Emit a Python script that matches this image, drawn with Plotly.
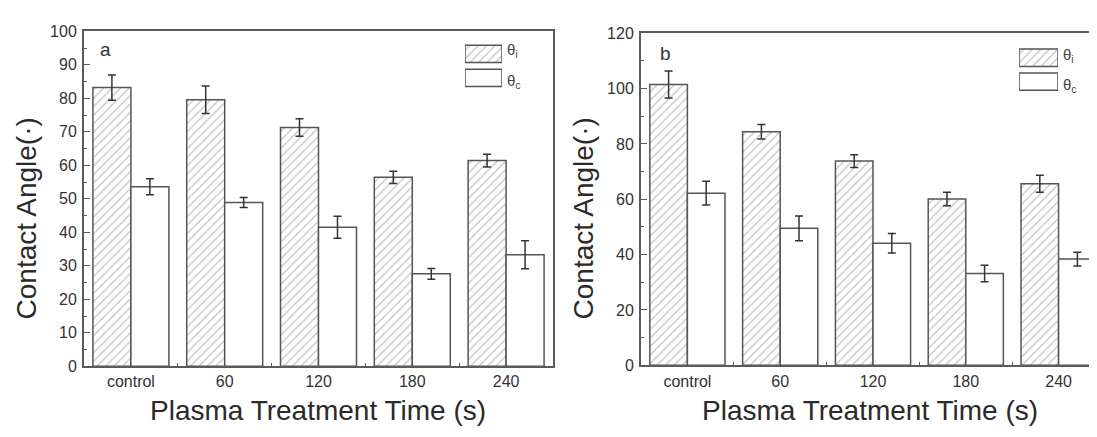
import plotly.graph_objects as go

# ---------------- data ----------------
categories = ["control", "60", "120", "180", "240"]

a_theta_i = [83.2, 79.6, 71.3, 56.4, 61.4]
a_theta_i_err = [3.8, 4.1, 2.6, 1.8, 1.9]
a_theta_c = [53.6, 48.9, 41.5, 27.6, 33.3]
a_theta_c_err = [2.4, 1.5, 3.3, 1.6, 4.2]

b_theta_i = [101.5, 84.4, 73.8, 60.1, 65.6]
b_theta_i_err = [4.9, 2.6, 2.3, 2.4, 3.1]
b_theta_c = [62.2, 49.5, 44.1, 33.2, 38.4]
b_theta_c_err = [4.3, 4.5, 3.5, 3.0, 2.5]

legend_keys = ["θ<sub>i</sub>", "θ<sub>c</sub>"]
legend_len = [1, 1]

a_yticks = [0, 10, 20, 30, 40, 50, 60, 70, 80, 90, 100]
b_yticks = [0, 20, 40, 60, 80, 100, 120]

# ---------------- style ----------------
W, H = 1097, 421   # page body adds an 8px margin; keep page height at 437
OFF = 8
FONT = "Liberation Sans, Arial, sans-serif"
LINE = "#5a5a5a"
TXT = "#333333"
HATCH = dict(shape="/", fgcolor="#8a8a8a", bgcolor="white", size=6, solidity=0.22)
BAR_LINE = dict(color="#555555", width=1.5)
ERR = dict(type="data", thickness=1.5, width=4, color="#333333")


def px(x):
    return min(1.0, max(0.0, (x - OFF) / W))


def py(y):
    return min(1.0, max(0.0, 1 - (y - OFF) / H))


fig = go.Figure()

# panel a
fig.add_trace(go.Bar(x=categories, y=a_theta_i, name="θi", xaxis="x", yaxis="y",
                     marker=dict(color="white", pattern=HATCH, line=BAR_LINE),
                     error_y=dict(array=a_theta_i_err, **ERR), showlegend=False))
fig.add_trace(go.Bar(x=categories, y=a_theta_c, name="θc", xaxis="x", yaxis="y",
                     marker=dict(color="white", line=BAR_LINE),
                     error_y=dict(array=a_theta_c_err, **ERR), showlegend=False))
# panel b
fig.add_trace(go.Bar(x=categories, y=b_theta_i, name="θi", xaxis="x2", yaxis="y2",
                     marker=dict(color="white", pattern=HATCH, line=BAR_LINE),
                     error_y=dict(array=b_theta_i_err, **ERR), showlegend=False))
fig.add_trace(go.Bar(x=categories, y=b_theta_c, name="θc", xaxis="x2", yaxis="y2",
                     marker=dict(color="white", line=BAR_LINE),
                     error_y=dict(array=b_theta_c_err, **ERR), showlegend=False))

# legend keys (drawn as small bars on their own mini axes)
for xa, ya in (("x3", "y3"), ("x4", "y4")):
    fig.add_trace(go.Bar(x=legend_len, y=legend_keys, orientation="h", xaxis=xa, yaxis=ya,
                         width=[0.72, 0.72],
                         marker=dict(color="white", line=BAR_LINE,
                                     pattern=dict(shape=["/", ""], fgcolor="#8a8a8a",
                                                  bgcolor="white", size=6, solidity=0.22)),
                         showlegend=False, hoverinfo="skip"))

tickfont = dict(family=FONT, size=16, color=TXT)

common_x = dict(type="category", showline=True, linecolor=LINE, linewidth=2, mirror=True,
                ticks="inside", tickson="boundaries", ticklen=3, tickcolor=LINE,
                tickfont=tickfont, showgrid=False, zeroline=False, fixedrange=True)
common_y = dict(showline=True, linecolor=LINE, linewidth=2, ticks="inside", ticklen=6,
                tickcolor=LINE, tickfont=tickfont, showgrid=False, zeroline=False,
                ticklabelstandoff=2)

mini = dict(visible=False, fixedrange=True)

fig.update_layout(
    width=W, height=H,
    margin=dict(l=0, r=0, t=0, b=0),
    paper_bgcolor="white", plot_bgcolor="white",
    barmode="group", bargap=0.19, bargroupgap=0,
    showlegend=False,
    xaxis=dict(domain=[px(84), px(553)], range=[-0.5, 4.5], anchor="y", **common_x),
    yaxis=dict(domain=[py(373), py(24)], range=[0, 100], tickvals=a_yticks, anchor="x",
               mirror=True, minor=dict(dtick=5, ticks="inside", ticklen=3, tickcolor=LINE),
               **common_y),
    xaxis2=dict(domain=[px(641), px(1105)], range=[-0.5, 4.5], anchor="y2", **common_x),
    yaxis2=dict(domain=[py(372), py(26)], range=[0, 120], tickvals=b_yticks, anchor="x2",
                mirror=False, minor=dict(dtick=10, ticks="inside", ticklen=3, tickcolor=LINE),
                **common_y),
    xaxis3=dict(domain=[px(465), px(502)], range=[0, 1], anchor="y3", **mini),
    yaxis3=dict(domain=[py(85), py(35)], type="category", autorange="reversed", anchor="x3",
                **mini),
    xaxis4=dict(domain=[px(1019), px(1058)], range=[0, 1], anchor="y4", **mini),
    yaxis4=dict(domain=[py(89), py(39)], type="category", autorange="reversed", anchor="x4",
                **mini),
)

annots = []
title_font = dict(family=FONT, size=28, color="#2a2a2a")
# axis titles
for cx in (318, 870):
    annots.append(dict(text="Plasma Treatment Time (s)", x=px(cx), y=py(419), xref="paper",
                       yref="paper", showarrow=False, font=title_font,
                       xanchor="center", yanchor="middle"))
for cx in (26, 583):
    annots.append(dict(text="Contact Angle(·)", x=px(cx), y=py(219), xref="paper",
                       yref="paper", showarrow=False, font=title_font, textangle=-90,
                       xanchor="center", yanchor="middle"))
# panel letters
annots.append(dict(text="a", x=px(105), y=py(43), xref="paper", yref="paper", showarrow=False,
                   font=dict(family=FONT, size=19, color="#333"), xanchor="center",
                   yanchor="middle"))
annots.append(dict(text="b", x=px(665), y=py(47), xref="paper", yref="paper", showarrow=False,
                   font=dict(family=FONT, size=19, color="#333"), xanchor="center",
                   yanchor="middle"))
# legend labels
leg_font = dict(family=FONT, size=15, color="#444")
for lx, ys in ((505, (44, 76)), (1061, (49, 80))):
    for key, ly in zip(legend_keys, ys):
        annots.append(dict(text=key, x=px(lx), y=py(ly), xref="paper", yref="paper",
                           showarrow=False, font=leg_font, xanchor="left", yanchor="middle"))
fig.update_layout(annotations=annots)

fig.write_html("out.html")
